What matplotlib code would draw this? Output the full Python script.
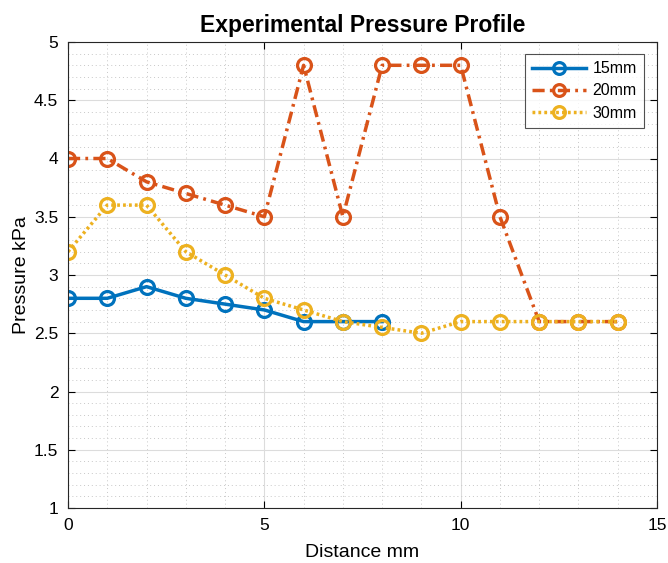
import numpy as np
import matplotlib
matplotlib.use('Agg')
import matplotlib.pyplot as plt
from matplotlib.ticker import MultipleLocator

# Data
x15 = [0, 1, 2, 3, 4, 5, 6, 7, 8]
p15 = [2.8, 2.8, 2.9, 2.8, 2.75, 2.7, 2.6, 2.6, 2.6]
x20 = list(range(15))
p20 = [4.0, 4.0, 3.8, 3.7, 3.6, 3.5, 4.8, 3.5, 4.8, 4.8, 4.8, 3.5, 2.6, 2.6, 2.6]
x30 = list(range(15))
p30 = [3.2, 3.6, 3.6, 3.2, 3.0, 2.8, 2.7, 2.6, 2.55, 2.5, 2.6, 2.6, 2.6, 2.6, 2.6]

plt.rcParams['font.family'] = ['Liberation Sans', 'DejaVu Sans']

fig = plt.figure(figsize=(6.68, 5.63), dpi=100)
ax = fig.add_axes([68/668, 1 - 508/563, (657-68)/668, (508-42)/563])

mk = dict(marker='o', markersize=10, markerfacecolor='none', markeredgewidth=2.3, linewidth=2.5)
ax.plot(x15, p15, '-', color='#0072BD', label='15mm', **mk)
ax.plot(x20, p20, linestyle=(0, (3.5, 1.5, 0.8, 1.5)), color='#D95319', label='20mm', **mk)
ax.plot(x30, p30, linestyle=(0, (0.8, 0.9)), color='#EDB120', label='30mm', **mk)

ax.set_xlim(0, 15)
ax.set_ylim(1, 5)
ax.xaxis.set_major_locator(MultipleLocator(5))
ax.xaxis.set_minor_locator(MultipleLocator(1))
ax.yaxis.set_major_locator(MultipleLocator(0.5))
ax.yaxis.set_minor_locator(MultipleLocator(0.1))
ax.set_yticks([1, 1.5, 2, 2.5, 3, 3.5, 4, 4.5, 5])
ax.set_yticklabels(['1', '1.5', '2', '2.5', '3', '3.5', '4', '4.5', '5'])

ax.grid(which='major', color='#dcdcdc', linewidth=0.8)
ax.grid(which='minor', color='#c8c8c8', linestyle=(0, (1, 3)), linewidth=0.7)
ax.set_axisbelow(True)
ax.tick_params(which='both', direction='in', top=True, right=True, labelsize=12.5, pad=7)
ax.tick_params(which='minor', length=0)
ax.tick_params(which='major', length=5)
for s in ax.spines.values():
    s.set_linewidth(0.8)
    s.set_color('#262626')

ax.set_xlabel('Distance mm', fontsize=14, labelpad=8)
ax.set_ylabel('Pressure kPa', fontsize=14, labelpad=3)
ax.set_title('Experimental Pressure Profile', fontsize=16.5, fontweight='bold', pad=7)

leg = ax.legend(loc='upper right', fontsize=11.5, fancybox=False, edgecolor='#262626',
                handlelength=3.4, bbox_to_anchor=(0.978, 0.974), borderaxespad=0,
                borderpad=0.45, labelspacing=0.45, handletextpad=0.4, markerscale=0.85)
leg.get_frame().set_linewidth(0.8)

fig.savefig('out.png', dpi=100)
